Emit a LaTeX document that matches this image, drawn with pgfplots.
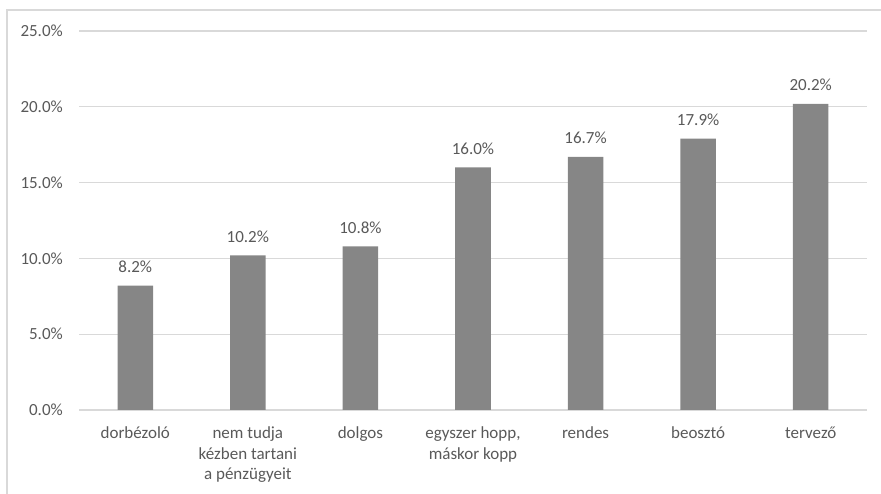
\documentclass[border=0pt]{standalone}
\usepackage{pgfplots}
\pgfplotsset{compat=1.18}
\usepackage{fontspec}
\setmainfont{Carlito}
\definecolor{txt}{HTML}{595959}
\definecolor{grd}{HTML}{D9D9D9}
\definecolor{bar}{HTML}{868686}
\begin{document}
\begin{tikzpicture}[x=1pt,y=1pt]
\path[use as bounding box] (0,0) rectangle (881,494);
\draw[grd, line width=1.2pt] (7,0) -- (7,484) -- (881,484);
\begin{axis}[
  at={(79pt,84pt)}, anchor=south west,
  scale only axis, width=788pt, height=379pt,
  /pgf/number format/assume math mode=true,
  xmin=-0.5, xmax=6.5, ymin=0, ymax=25,
  ytick={0,5,10,15,20,25},
  xtick={0,1,2,3,4,5,6},
  xticklabels={dorbézoló, {nem tudja\\kézben tartani\\a pénzügyeit}, dolgos, {egyszer hopp,\\máskor kopp}, rendes, beosztó, tervező},
  yticklabel={\pgfmathprintnumber[fixed,fixed zerofill,precision=1]{\tick}\%},
  major tick length=0pt,
  axis x line*=bottom,
  axis y line*=left,
  y axis line style={draw=none},
  x axis line style={grd, line width=1.2pt, -},
  ymajorgrids, grid style={grd, line width=1.2pt},
  every tick/.style={draw=none},
  tick label style={font=\fontsize{17}{20.5}\selectfont, text=txt},
  xticklabel style={align=center, inner sep=0pt, anchor=north, yshift=-17pt},
  yticklabel style={inner sep=0pt, anchor=east, xshift=-16pt},
  nodes near coords={\pgfmathprintnumber[fixed,fixed zerofill,precision=1]{\pgfplotspointmeta}\%},
  nodes near coords style={font=\fontsize{17}{20.5}\selectfont, text=txt, inner sep=0pt, anchor=south, yshift=12.5pt},
  clip=false,
]
\addplot[ybar, bar width=35.5pt, fill=bar, draw=none] coordinates {
  (0,8.2) (1,10.2) (2,10.8) (3,16.0) (4,16.7) (5,17.9) (6,20.2)
};
\end{axis}
\end{tikzpicture}
\end{document}
